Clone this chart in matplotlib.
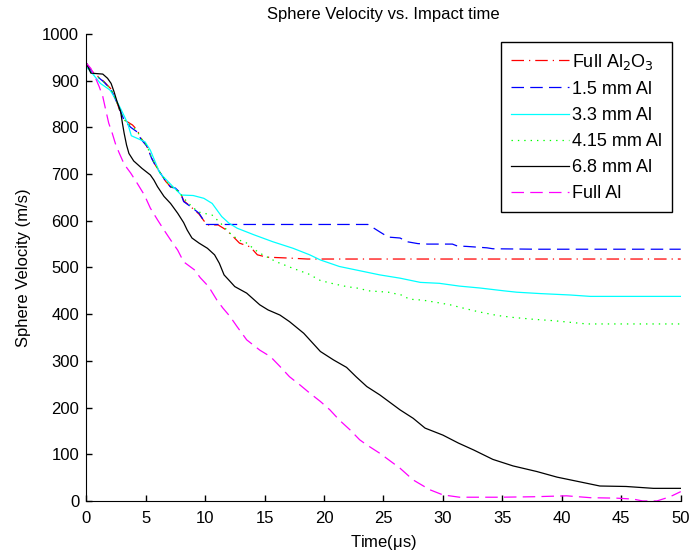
import matplotlib
matplotlib.use("Agg")
import matplotlib.pyplot as plt

plt.rcParams['font.family'] = ['Liberation Sans', 'DejaVu Sans']

# ---------------- data ----------------
al2o3_t = [0, 0.5, 1.5, 2.1, 2.5, 2.8, 3.2, 3.9, 4.3, 4.6, 5.1, 5.5, 5.85, 6.3, 6.7, 7.1, 7.5, 7.95,
           8.2, 8.8, 9.5, 9.9, 10.2, 11.1, 11.8, 12.4, 12.9, 13.8, 14.4, 15.2, 17.1, 18.6, 50]
al2o3_v = [938, 920, 898, 882, 860, 838, 816, 805, 794, 777, 760, 735, 718, 700, 684, 673, 668, 659,
           643, 630, 614, 600, 591, 591, 580, 565, 552, 544, 527, 522, 520, 518, 518]

al15_t = [0, 0.5, 1.5, 2.1, 2.5, 2.8, 3.2, 3.75, 4.3, 4.6, 5.1, 5.5, 5.85, 6.3, 6.7, 7.1, 7.5, 7.95,
          8.2, 8.8, 9.5, 9.9, 10.1, 23.7, 24.7, 25.4, 26.4, 27.0, 27.9, 28.7, 30.8, 31.2, 32.0,
          33.7, 34.2, 37.9, 50]
al15_v = [938, 918, 897, 880, 858, 840, 815, 800, 790, 775, 760, 734, 717, 700, 684, 672, 670, 659,
          641, 630, 616, 600, 592, 592, 576, 565, 563, 555, 551, 550, 550, 546, 545,
          542, 540, 539, 539]

al33_t = [0, 0.5, 1.2, 2.0, 2.5, 3.0, 3.5, 3.8, 4.95, 5.4, 6.2, 7.3, 8.0, 9.0, 9.9, 10.6, 11.0,
          11.4, 12.0, 12.7, 14.1, 15.7, 17.4, 18.8, 19.7, 21.3, 23.0, 24.7, 26.4, 28.1, 29.7,
          31.4, 33.1, 34.1, 35.1, 36.2, 38.2, 40.7, 42.4, 50]
al33_v = [930, 916, 894, 880, 860, 835, 808, 782, 769, 751, 702, 673, 655, 654, 648, 637, 623,
          609, 595, 584, 570, 555, 541, 527, 516, 502, 493, 484, 477, 468, 466,
          460, 456, 453, 450, 447, 444, 441, 438, 438]

al415_t = [0, 0.5, 1.5, 2.1, 2.5, 2.8, 3.2, 3.75, 4.3, 4.6, 5.1, 5.5, 5.85, 6.3, 6.7, 7.1, 7.5, 8.0,
           8.5, 9.4, 10.6, 11.3, 12.1, 12.8, 13.4, 14.5, 16.0, 17.4, 18.7, 19.7, 20.8, 21.9,
           23.0, 23.7, 25.4, 26.5, 27.2, 28.3, 29.5, 30.6, 31.7, 33.0, 34.6, 35.9, 37.6, 39.3,
           40.9, 42.1, 50]
al415_v = [938, 919, 897, 881, 860, 838, 816, 804, 792, 777, 761, 735, 718, 700, 685, 673, 669, 655,
           640, 619, 612, 595, 573, 559, 554, 532, 512, 498, 486, 472, 465, 459,
           455, 450, 447, 441, 432, 430, 425, 420, 413, 405, 397, 393, 389, 386,
           382, 379, 379]

al68_t = [0, 0.4, 1.4, 1.8, 2.1, 2.35, 2.6, 2.9, 3.05, 3.2, 3.4, 3.6, 4.0, 4.7, 5.4, 5.7, 6.0,
          6.55, 7.1, 7.7, 8.2, 8.5, 8.9, 9.5, 10.2, 10.8, 11.2, 11.6, 12.0, 12.5, 13.5, 14.6,
          15.3, 16.3, 17.1, 18.3, 19.7, 20.8, 21.9, 22.7, 23.6, 24.7, 26.4, 27.5, 28.5, 30.0,
          31.3, 32.6, 34.2, 35.9, 37.9, 39.6, 41.5, 43.2, 45.4, 47.7, 50]
al68_v = [938, 916, 914, 905, 894, 876, 855, 834, 809, 787, 762, 744, 728, 712, 698, 687, 673,
          652, 637, 616, 596, 580, 563, 552, 541, 527, 509, 484, 473, 459, 445, 420,
          409, 398, 384, 359, 320, 302, 286, 266, 245, 227, 195, 177, 156, 141,
          124, 109, 89, 75, 63, 51, 41, 32, 31, 27, 27]

fullal_t = [0, 0.4, 0.8, 1.1, 1.4, 1.65, 1.9, 2.2, 2.5, 2.8, 3.2, 3.75, 4.3, 4.9, 5.4, 6.0, 6.55,
            7.1, 7.7, 8.2, 9.1, 9.6, 10.3, 11.0, 11.5, 12.1, 12.7, 13.5, 14.6, 15.5, 16.3, 17.1,
            18.0, 18.8, 19.7, 20.5, 21.3, 22.2, 23.0, 23.6, 24.7, 26.4, 27.5, 28.9, 30.0, 31.4,
            34.8, 37.6, 40.4, 42.4, 44.6, 46.0, 46.8, 48.0, 49.1, 50]
fullal_v = [938, 926, 905, 887, 866, 837, 809, 787, 762, 744, 721, 702, 680, 655, 627, 602, 580,
            559, 537, 512, 495, 478, 459, 430, 413, 395, 373, 345, 323, 309, 288, 266,
            248, 231, 213, 195, 173, 152, 131, 120, 102, 70, 45, 24, 13, 8,
            8, 9, 11, 7, 6, 4, 0, 0, 9, 20]

labels = ['Full Al$_2$O$_3$', '1.5 mm Al', '3.3 mm Al', '4.15 mm Al', '6.8 mm Al', 'Full Al']
x_ticks = [0, 5, 10, 15, 20, 25, 30, 35, 40, 45, 50]
y_ticks = [0, 100, 200, 300, 400, 500, 600, 700, 800, 900, 1000]

# ---------------- plot ----------------
fig = plt.figure(figsize=(6.89, 5.56), dpi=100)
ax = fig.add_axes([0.125, 0.099, 0.863, 0.840])

lw = 0.9
ax.plot(al2o3_t, al2o3_v, color='#ff0000', lw=lw, linestyle=(0, (10, 4, 1, 4)), label=labels[0])
ax.plot(al15_t, al15_v, color='#0000ff', lw=lw, linestyle=(0, (10, 5)), label=labels[1])
ax.plot(al33_t, al33_v, color='#00ffff', lw=lw, linestyle='-', label=labels[2])
ax.plot(al415_t, al415_v, color='#00ff00', lw=lw, linestyle=(0, (1.1, 4.0)), label=labels[3])
ax.plot(al68_t, al68_v, color='#000000', lw=lw, linestyle='-', label=labels[4])
ax.plot(fullal_t, fullal_v, color='#ff00ff', lw=lw, linestyle=(0, (10, 5)), label=labels[5])

ax.set_xlim(0, 50)
ax.set_ylim(0, 1000)
ax.set_xticks(x_ticks)
ax.set_yticks(y_ticks)
ax.tick_params(axis='both', direction='in', length=4, width=1, labelsize=12)
ax.tick_params(axis='x', pad=7)
ax.tick_params(axis='y', pad=5)
ax.spines['top'].set_visible(False)
ax.spines['right'].set_visible(False)

ax.set_title('Sphere Velocity vs. Impact time', fontsize=12, pad=11)
ax.set_xlabel(r'Time($\mathregular{\mu}$s)', fontsize=12, labelpad=5)
ax.set_ylabel('Sphere Velocity (m/s)', fontsize=12, labelpad=8)

leg = ax.legend(loc='upper right', bbox_to_anchor=(0.985, 0.983), fontsize=13,
                frameon=True, fancybox=False, edgecolor='black', framealpha=1,
                handlelength=3.2, handletextpad=0.15, labelspacing=0.5, borderpad=0.55,
                borderaxespad=0)
leg.get_frame().set_linewidth(1.0)

fig.savefig('out.png', dpi=100)
